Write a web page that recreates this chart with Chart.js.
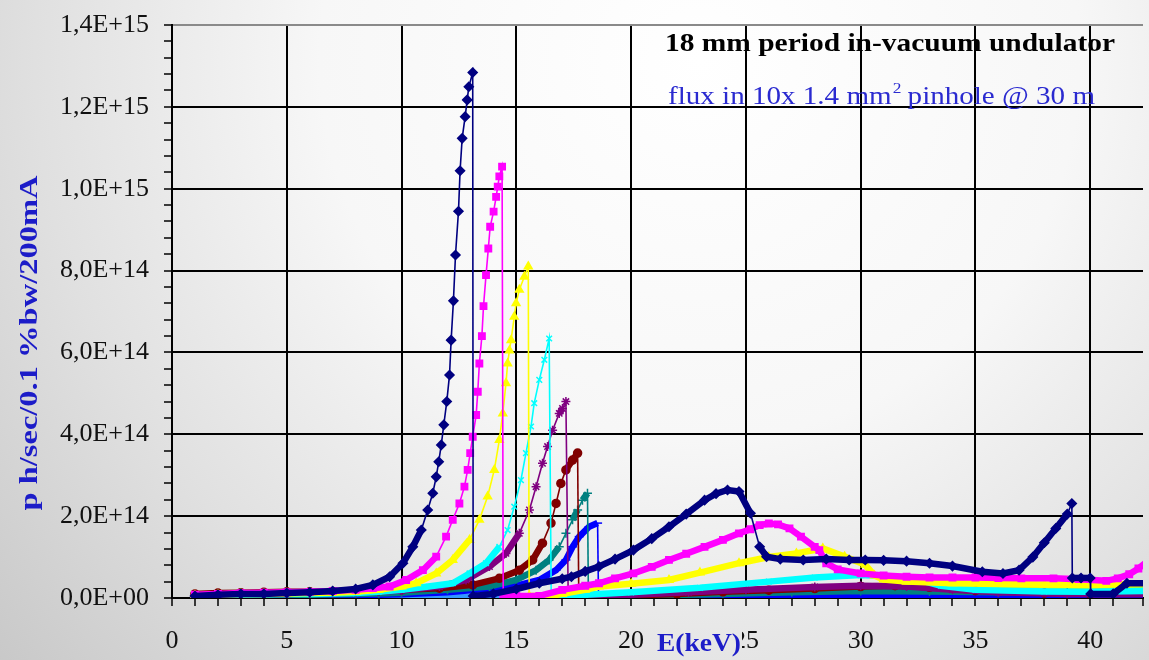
<!DOCTYPE html>
<html>
<head>
<meta charset="utf-8">
<script src="https://cdn.jsdelivr.net/npm/chart.js@4.4.1/dist/chart.umd.min.js"></script>
<style>
  html, body { margin: 0; padding: 0; background: #e6e6e6; }
  #wrap { width: 1149px; height: 660px; position: relative; }
  canvas { display: block; }
</style>
</head>
<body>
<div id="wrap"><canvas id="c" width="1149" height="660"></canvas></div>
<script>
// ---------------- DATA (E in keV, flux in units of 1E14 ph/sec/0.1%bw/200mA) ----------------
const FLUX_UNIT = 1e14;

const s1E = [1,2,3,4,5,6,7,8,8.75,9.48,10.06,10.49,10.86,11.14,11.36,11.51,11.62,11.73,11.84,11.97,12.09,12.16,12.26,12.35,12.48,12.55,12.64,12.77,12.86,12.93,13.1,13.12,14,15,16,17,17.4,18,18.6,19.3,20.1,20.9,21.65,22.4,23.2,23.7,24.2,24.7,25.2,25.6,25.9,26.5,27.5,28.5,29.5,30.2,31,32,33,34,35.3,36.2,36.9,37.5,38,38.5,39,39.2,39.22,39.6,40,40.02,41,41.6,42.5];
const s1F = [0.05,0.08,0.1,0.1,0.12,0.14,0.17,0.22,0.32,0.52,0.85,1.25,1.66,2.15,2.56,2.96,3.33,3.74,4.23,4.8,5.45,6.3,7.26,8.38,9.45,10.44,11.23,11.76,12.17,12.49,12.84,0.05,0.1,0.22,0.36,0.47,0.52,0.65,0.77,0.95,1.17,1.45,1.74,2.05,2.39,2.55,2.64,2.6,2.07,1.25,1.01,0.95,0.93,0.95,0.93,0.93,0.92,0.9,0.85,0.78,0.64,0.6,0.68,1.0,1.35,1.7,2.05,2.31,0.49,0.49,0.49,0.1,0.1,0.36,0.36];

const s2E = [1,2,3,4,5,6,7,8,8.75,9.48,10.2,10.93,11.51,11.94,12.23,12.52,12.74,12.88,12.99,13.1,13.25,13.32,13.39,13.5,13.57,13.68,13.78,13.86,14.01,14.12,14.19,14.26,14.38,14.43,15,16,17,18,18.6,19.3,20.1,20.9,21.65,22.4,23.2,24,24.7,25.2,25.6,26,26.4,26.9,27.4,28,28.2,28.5,29,30,31,32,33,34,35,36,37,38.4,39.5,40.7,41.2,41.7,42.1,42.5];
const s2F = [0.08,0.1,0.12,0.13,0.14,0.15,0.17,0.2,0.24,0.28,0.44,0.68,1.01,1.5,1.91,2.31,2.72,3.13,3.54,3.94,4.47,5.04,5.73,6.4,7.13,7.89,8.54,9.07,9.44,9.8,10.05,10.3,10.54,0.05,0.05,0.05,0.2,0.3,0.36,0.48,0.6,0.76,0.93,1.08,1.25,1.42,1.58,1.68,1.78,1.82,1.8,1.7,1.5,1.25,1.17,0.85,0.7,0.6,0.55,0.52,0.5,0.5,0.5,0.49,0.48,0.48,0.46,0.42,0.48,0.58,0.72,0.9];

const s3E = [1,2,3,4,5,6,7,8,9,10,10.64,11.51,12.23,12.96,13.39,13.75,14.04,14.26,14.41,14.55,14.62,14.7,14.77,14.91,14.99,15.13,15.35,15.52,15.56,16.5,17,18,18.6,20,21.65,23,24.7,26,27.2,28.35,29.3,30.2,30.6,31,32,34,36,38,40,42.5];
const s3F = [0.06,0.08,0.1,0.1,0.11,0.12,0.13,0.15,0.2,0.28,0.36,0.6,0.93,1.42,1.91,2.48,3.13,3.86,4.51,5.25,5.73,6.05,6.3,6.87,7.2,7.53,7.85,8.1,0.05,0.05,0.1,0.2,0.28,0.35,0.44,0.62,0.85,1.0,1.09,1.21,1.01,0.81,0.55,0.45,0.4,0.36,0.34,0.33,0.32,0.35];

const s4E = [1,2,3,4,5,6,7,8,9,10,11,12.23,12.96,13.68,14.26,14.62,14.91,15.2,15.42,15.64,15.78,16.0,16.22,16.43,16.52,17.2,18,20,23,26,28,30,31.5,32.5,33.5,35,38,40,42.5];
const s4F = [0.05,0.07,0.08,0.09,0.1,0.1,0.11,0.12,0.15,0.2,0.27,0.36,0.6,0.85,1.25,1.66,2.23,2.88,3.54,4.19,4.76,5.33,5.82,6.34,0.05,0.05,0.08,0.14,0.25,0.4,0.5,0.56,0.52,0.45,0.3,0.2,0.16,0.15,0.17];

const s5E = [1,2,3,4,5,6,7,8,9,10,11.65,12.81,13.83,14.55,15.13,15.57,15.86,16.14,16.36,16.58,16.87,17.01,17.16,17.26,18,20,22.5,25,28,30,32,34,36,39,42.5];
const s5F = [0.06,0.08,0.09,0.1,0.1,0.11,0.12,0.13,0.15,0.18,0.28,0.44,0.77,1.09,1.58,2.15,2.72,3.29,3.7,4.1,4.51,4.63,4.8,0.05,0.04,0.08,0.14,0.2,0.27,0.3,0.28,0.2,0.14,0.1,0.1];

const s6E = [1,2,3,4,5,6,7,8,9,10,11.65,13.1,14.26,15.13,15.71,16.14,16.51,16.73,16.94,17.16,17.45,17.67,17.72,18.5,20,22,24,26,28,30,31.5,33,35,38,40,42.5];
const s6F = [0.1,0.12,0.13,0.14,0.15,0.15,0.16,0.17,0.18,0.2,0.24,0.32,0.48,0.68,0.93,1.34,1.83,2.31,2.8,3.13,3.37,3.54,0.06,0.05,0.06,0.1,0.15,0.19,0.23,0.28,0.3,0.26,0.18,0.12,0.1,0.1];

const s7E = [1,2,3,4,5,6,7,8,9,10,12,13.83,14.99,15.86,16.43,16.87,17.16,17.45,17.67,17.88,18.1,18.14,19,21,24,27,30,33,36,39,42.5];
const s7F = [0.04,0.05,0.06,0.07,0.08,0.08,0.09,0.1,0.11,0.13,0.2,0.28,0.44,0.68,0.93,1.25,1.58,1.91,2.15,2.39,2.56,0.04,0.04,0.06,0.1,0.14,0.17,0.16,0.14,0.14,0.15];

const s8E = [1,2,3,4,5,6,7,8,9,10,12,14.84,16.0,16.73,17.16,17.45,17.74,18.17,18.54,18.58,20,25,30,35,40,42.5];
const s8F = [0.02,0.03,0.04,0.05,0.05,0.06,0.06,0.07,0.08,0.09,0.14,0.28,0.44,0.68,0.93,1.25,1.5,1.74,1.83,0.03,0.03,0.04,0.05,0.05,0.05,0.05];

const s9E = [18,22,26,30,33,36,39,42.5];
const s9F = [0.02,0.05,0.1,0.15,0.2,0.24,0.24,0.25];

const s10E = [1,5,10,15,20,25,30,35,40,42.5];
const s10F = [0.01,0.02,0.03,0.03,0.03,0.04,0.05,0.06,0.08,0.1];

const xMajorLabels = [0,5,10,15,20,25,30,35,40];
const yMajorLabels = ["0,0E+00","2,0E+14","4,0E+14","6,0E+14","8,0E+14","1,0E+15","1,2E+15","1,4E+15"];

const TITLE = "18 mm period in-vacuum undulator";
const SUB_A = "flux in 10x 1.4 mm";
const SUB_SUP = "2";
const SUB_B = " pinhole @ 30 m";
const Y_TITLE = "p h/sec/0.1 %bw/200mA";
const X_TITLE = "E(keV)";

// ---------------- STYLES ----------------
const seriesDefs = [
  { E: s1E, F: s1F, color: '#000080', style: 'rectRot', r: 4.5 },
  { E: s2E, F: s2F, color: '#FF00FF', style: 'rect', r: 4.5 },
  { E: s3E, F: s3F, color: '#FFFF00', style: 'triangle', r: 4.5 },
  { E: s4E, F: s4F, color: '#00FFFF', style: 'crossRot', r: 4 },
  { E: s5E, F: s5F, color: '#800080', style: 'star', r: 4.5 },
  { E: s6E, F: s6F, color: '#800000', style: 'circle', r: 4 },
  { E: s7E, F: s7F, color: '#008080', style: 'cross', r: 4.5 },
  { E: s8E, F: s8F, color: '#0000FF', style: 'line', r: 4.5 },
  { E: s9E, F: s9F, color: '#99FF33', style: 'circle', r: 2 },
  { E: s10E, F: s10F, color: '#3399FF', style: 'circle', r: 2 }
];

const FONT = "'Liberation Serif', 'Times New Roman', serif";
Chart.defaults.font.family = FONT;

function segWidth(c) {
  const dx = Math.abs(c.p1.x - c.p0.x), dy = Math.abs(c.p1.y - c.p0.y);
  return dy > 2 * dx ? 1.6 : 6.5;
}

const datasets = seriesDefs.map(s => ({
  data: s.E.map((e, i) => ({ x: e, y: s.F[i] * FLUX_UNIT })),
  borderColor: s.color,
  backgroundColor: s.color,
  pointBackgroundColor: s.color,
  pointBorderColor: s.color,
  pointStyle: s.style,
  pointRadius: s.r,
  pointBorderWidth: 1.5,
  borderWidth: 2,
  tension: 0,
  segment: { borderWidth: segWidth }
}));

let bgGrad = null;
function getBg(ctx) {
  const g = ctx.createRadialGradient(700, 60, 0, 700, 60, 950);
  g.addColorStop(0, '#ffffff');
  g.addColorStop(0.4, '#f7f7f7');
  g.addColorStop(0.7, '#e0e0e0');
  g.addColorStop(1, '#c6c6c6');
  return g;
}

function fitText(ctx, text, x, y, width, font, color, align) {
  ctx.save();
  ctx.font = font;
  ctx.fillStyle = color;
  const w = ctx.measureText(text).width;
  ctx.translate(x, y);
  ctx.scale(width / w, 1);
  ctx.textAlign = align || 'left';
  ctx.fillText(text, 0, 0);
  ctx.restore();
}

const decor = {
  id: 'decor',
  beforeDraw(chart) {
    const ctx = chart.ctx;
    bgGrad = getBg(ctx);
    ctx.save();
    ctx.fillStyle = bgGrad;
    ctx.fillRect(0, 0, chart.width, chart.height);
    ctx.restore();
  },
  afterDraw(chart) {
    const ctx = chart.ctx;
    // title
    fitText(ctx, TITLE, 665, 51, 450, "bold 26px " + FONT, '#000000');
    // subtitle with superscript
    ctx.save();
    const fMain = "25px " + FONT, fSup = "15px " + FONT;
    ctx.font = fMain; const wa = ctx.measureText(SUB_A).width; const wb = ctx.measureText(SUB_B).width;
    ctx.font = fSup; const ws = ctx.measureText(SUB_SUP).width;
    const k = 427 / (wa + ws + wb);
    ctx.translate(668, 104);
    ctx.scale(k, 1);
    ctx.fillStyle = '#2a2ad0';
    ctx.font = fMain; ctx.fillText(SUB_A, 0, 0);
    ctx.font = fSup; ctx.fillText(SUB_SUP, wa + 1, -11);
    ctx.font = fMain; ctx.fillText(SUB_B, wa + ws, 0);
    ctx.restore();
    // y title
    ctx.save();
    ctx.translate(31, 343);
    ctx.rotate(-Math.PI / 2);
    ctx.textBaseline = 'middle';
    fitText(ctx, Y_TITLE, 0, 0, 335, "bold 25px " + FONT, '#1c1cc8', 'center');
    ctx.restore();
    // x title with background box
    ctx.save();
    ctx.fillStyle = bgGrad;
    ctx.fillRect(654, 626, 88, 32);
    ctx.restore();
    ctx.save();
    ctx.textBaseline = 'alphabetic';
    fitText(ctx, X_TITLE, 657, 651, 84, "bold 26px " + FONT, '#1c1cc8');
    ctx.restore();
  }
};

const isMajorY = v => Math.round(v / 1e13) % 20 === 0;

new Chart(document.getElementById('c'), {
  type: 'line',
  data: { datasets },
  plugins: [decor],
  options: {
    responsive: false,
    animation: false,
    devicePixelRatio: 1,
    layout: { padding: { top: 25, left: 0, right: 0, bottom: 0 } },
    plugins: { legend: { display: false }, tooltip: { enabled: false } },
    scales: {
      x: {
        type: 'linear',
        min: 0,
        max: 42.3,
        afterFit(s) { s.height = 62; },
        border: { display: true, color: '#000', width: 2 },
        grid: {
          color: c => (xMajorLabels.includes(c.tick.value) ? '#000' : 'rgba(0,0,0,0)'),
          lineWidth: 2,
          tickColor: '#000',
          tickWidth: 1.5,
          tickLength: 8,
          drawTicks: true
        },
        ticks: {
          stepSize: 1,
          autoSkip: false,
          maxRotation: 0,
          padding: 0,
          color: '#111',
          font: { size: 26, family: FONT, lineHeight: 2.7 },
          callback: v => (xMajorLabels.includes(v) ? String(v) : '')
        }
      },
      y: {
        type: 'linear',
        min: 0,
        max: 1.4e15,
        afterFit(s) { s.width = 172; },
        border: { display: true, color: '#000', width: 2 },
        grid: {
          color: c => (c.tick.value >= 1.4e15 - 1e12 ? '#8a8a8a' : (isMajorY(c.tick.value) ? '#000' : 'rgba(0,0,0,0)')),
          lineWidth: 2,
          tickColor: '#000',
          tickWidth: 1.5,
          tickLength: 8,
          drawTicks: true
        },
        ticks: {
          stepSize: 4e13,
          autoSkip: false,
          padding: 15,
          color: '#111',
          font: { size: 26, family: FONT, lineHeight: 0.5 },
          callback: v => (isMajorY(v) ? yMajorLabels[Math.round(v / 2e14)] : '')
        }
      }
    }
  }
});
</script>
</body>
</html>
